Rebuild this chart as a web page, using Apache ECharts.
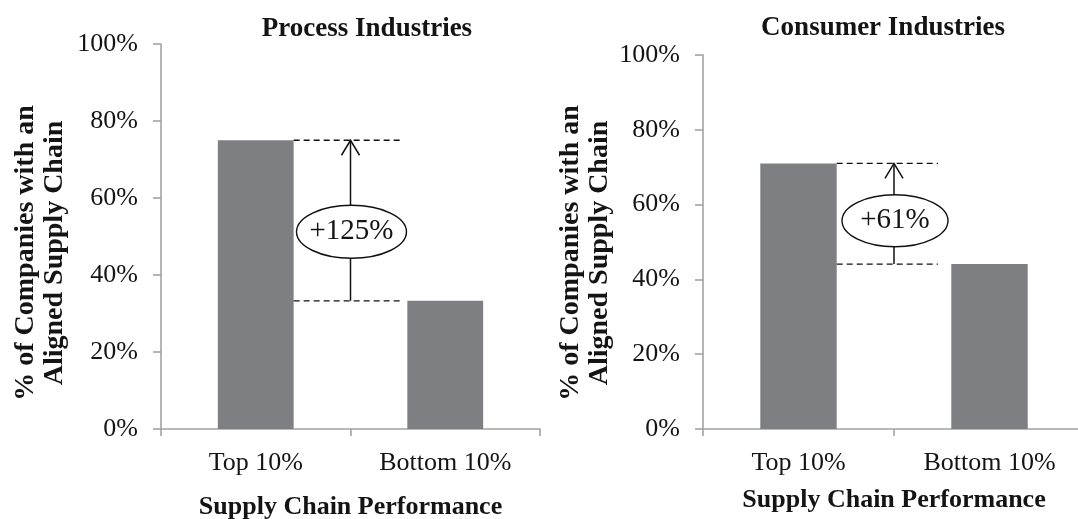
<!DOCTYPE html>
<html>
<head>
<meta charset="utf-8">
<title>Aligned Supply Chain by Performance</title>
<script src="https://cdn.jsdelivr.net/npm/echarts@6/dist/echarts.min.js"></script>
<style>
  html, body { margin: 0; padding: 0; background: #ffffff; }
  #chart { width: 1078px; height: 519px; }
</style>
</head>
<body>
<div id="chart"></div>
<script>
// Share of companies with an aligned supply chain, by performance group
const categories = ['Top 10%', 'Bottom 10%'];
const panelTitles = ['Process Industries', 'Consumer Industries'];
const processValues = [75, 33.3];
const consumerValues = [71, 44.1];
const yAxisTitle = '% of Companies with an\nAligned Supply Chain';
const xAxisTitle = 'Supply Chain Performance';

const FONT = '"Liberation Serif", "Times New Roman", serif';
const INK = '#141414';
const AXIS_GREY = '#a3a3a3';
const BAR_GREY = '#7e7f83';

// relative gain of the top group over the bottom group, e.g. "+125%"
function gainLabel(values) {
  return '+' + Math.round((values[0] / values[1] - 1) * 100) + '%';
}

function makeXAxis(gridIndex, nameGap) {
  return {
    type: 'category',
    gridIndex: gridIndex,
    data: categories,
    boundaryGap: true,
    axisLine: { lineStyle: { color: AXIS_GREY, width: 1.6 } },
    axisTick: { show: true, length: 7, lineStyle: { color: AXIS_GREY, width: 1.6 } },
    axisLabel: { color: INK, fontFamily: FONT, fontSize: 26, margin: 21 },
    name: xAxisTitle,
    nameLocation: 'middle',
    nameGap: nameGap,
    nameTextStyle: { color: INK, fontFamily: FONT, fontSize: 26, fontWeight: 'bold' }
  };
}

function makeYAxis(gridIndex) {
  return {
    type: 'value',
    gridIndex: gridIndex,
    min: 0,
    max: 100,
    interval: 20,
    splitLine: { show: false },
    axisLine: { show: true, lineStyle: { color: AXIS_GREY, width: 1.6 } },
    axisTick: { show: true, length: 8, lineStyle: { color: AXIS_GREY, width: 1.6 } },
    axisLabel: { color: INK, fontFamily: FONT, fontSize: 26, margin: 23, formatter: '{value}%' }
  };
}

// Dashed guides at both bar heights, an arrow between them and a gain badge
function gainRenderer(opts) {
  return function (params, api) {
    const top = api.value(1);
    const bottom = api.value(2);
    const pTop = api.coord([0, top]);
    const pBot = api.coord([1, bottom]);
    const band = api.size([1, 0])[0];
    const xMid = (pTop[0] + pBot[0]) / 2;
    const xStart = pTop[0] + band * 0.2;
    const xEnd = xMid + band * opts.dashReach;
    const yTop = pTop[1];
    const yBot = pBot[1];
    const cy = yTop + (yBot - yTop) * 0.57;
    const dash = { stroke: '#111', lineWidth: 1.3, lineDash: [6, 4] };
    const solid = { stroke: '#111', lineWidth: 1.5, fill: null };
    return {
      type: 'group',
      children: [
        { type: 'line', shape: { x1: xStart, y1: yTop, x2: xEnd, y2: yTop }, style: dash },
        { type: 'line', shape: { x1: xStart, y1: yBot, x2: xEnd, y2: yBot }, style: dash },
        { type: 'line', shape: { x1: xMid, y1: yBot, x2: xMid, y2: yTop }, style: solid },
        { type: 'polyline', shape: { points: [[xMid - 9, yTop + 15], [xMid, yTop], [xMid + 9, yTop + 15]] }, style: solid },
        { type: 'ellipse', shape: { cx: xMid + 1, cy: cy, rx: opts.rx, ry: opts.ry }, style: { fill: '#fff', stroke: '#111', lineWidth: 1.4 } },
        {
          type: 'text', x: xMid + 1, y: cy,
          style: { text: opts.label, fill: INK, fontFamily: FONT, fontSize: 29, align: 'center', verticalAlign: 'middle' }
        }
      ]
    };
  };
}

const chart = echarts.init(document.getElementById('chart'), null, { renderer: 'canvas' });

chart.setOption({
  backgroundColor: '#ffffff',
  animation: false,
  grid: [
    { left: 161, top: 44, right: 538, bottom: 90, containLabel: false, outerBoundsMode: 'none' },
    { left: 703, top: 55, right: -7, bottom: 90, containLabel: false, outerBoundsMode: 'none' }
  ],
  xAxis: [makeXAxis(0, 65), makeXAxis(1, 58)],
  yAxis: [makeYAxis(0), makeYAxis(1)],
  graphic: [
    {
      type: 'text', x: 367, y: 29,
      style: { text: panelTitles[0], fill: INK, fontFamily: FONT, fontSize: 27, fontWeight: 'bold', align: 'center', verticalAlign: 'middle' }
    },
    {
      type: 'text', x: 883, y: 28,
      style: { text: panelTitles[1], fill: INK, fontFamily: FONT, fontSize: 27, fontWeight: 'bold', align: 'center', verticalAlign: 'middle' }
    },
    {
      type: 'text', x: 40, y: 253, rotation: Math.PI / 2,
      style: { text: yAxisTitle, fill: INK, fontFamily: FONT, fontSize: 28, fontWeight: 'bold', lineHeight: 29, align: 'center', verticalAlign: 'middle' }
    },
    {
      type: 'text', x: 585, y: 253, rotation: Math.PI / 2,
      style: { text: yAxisTitle, fill: INK, fontFamily: FONT, fontSize: 28, fontWeight: 'bold', lineHeight: 29, align: 'center', verticalAlign: 'middle' }
    }
  ],
  series: [
    {
      type: 'bar', xAxisIndex: 0, yAxisIndex: 0,
      data: processValues, barCategoryGap: '60%',
      itemStyle: { color: BAR_GREY }
    },
    {
      type: 'bar', xAxisIndex: 1, yAxisIndex: 1,
      data: consumerValues, barCategoryGap: '60%',
      itemStyle: { color: BAR_GREY }
    },
    {
      type: 'custom', xAxisIndex: 0, yAxisIndex: 0, clip: false, z: 5,
      encode: { x: 0, y: 1 },
      data: [[0, processValues[0], processValues[1]]],
      renderItem: gainRenderer({ label: gainLabel(processValues), rx: 55, ry: 26.5, dashReach: 0.265 })
    },
    {
      type: 'custom', xAxisIndex: 1, yAxisIndex: 1, clip: false, z: 5,
      encode: { x: 0, y: 1 },
      data: [[0, consumerValues[0], consumerValues[1]]],
      renderItem: gainRenderer({ label: gainLabel(consumerValues), rx: 53, ry: 26, dashReach: 0.23 })
    }
  ]
});
</script>
</body>
</html>
